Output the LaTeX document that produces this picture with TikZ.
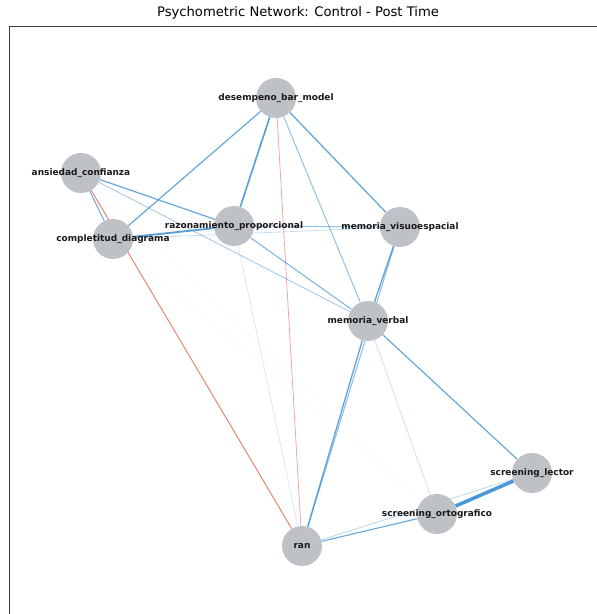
\documentclass[tikz,border=0pt]{standalone}
\usepackage{fontspec}
\setmainfont{DejaVu Sans}
\usetikzlibrary{backgrounds}
\definecolor{nodegray}{RGB}{190,194,199}
\definecolor{posblue}{RGB}{75,152,215}
\definecolor{negred}{RGB}{230,112,92}
\definecolor{framegray}{RGB}{60,60,60}
\begin{document}
\begin{tikzpicture}[x=1bp,y=-1bp,
  vnode/.style={circle,fill=nodegray,minimum size=40bp,inner sep=0pt},
  vlabel/.style={font=\bfseries\fontsize{9}{10}\selectfont,text=black!90,inner sep=0pt},
  pos/.style={draw=posblue,line width=#1},
  neg/.style={draw=negred,line width=#1},
  faint/.style={draw=posblue!40!gray,line width=0.6bp,draw opacity=0.06}
]
\useasboundingbox (0,0) rectangle (597,614);
\node[font=\fontsize{13.2}{15}\selectfont] (title) at (298,13) {Psychometric Network: Control - Post Time};
\draw[framegray,line width=0.8bp] (9,614) -- (9,26) -- (597,26);

% nodes
\node[vnode] (des) at (276,98) {};
\node[vnode] (ans) at (81,173) {};
\node[vnode] (com) at (113,239) {};
\node[vnode] (raz) at (234,226) {};
\node[vnode] (mvi) at (400,227) {};
\node[vnode] (mve) at (368,321) {};
\node[vnode] (lec) at (532,473) {};
\node[vnode] (ort) at (437,514) {};
\node[vnode] (ran) at (302,546) {};

% labels
\node[vlabel] (ldes) at (des) {desempeno\_bar\_model};
\node[vlabel] (lans) at (ans) {ansiedad\_confianza};
\node[vlabel] (lcom) at (com) {completitud\_diagrama};
\node[vlabel] (lraz) at (raz) {razonamiento\_proporcional};
\node[vlabel] (lmvi) at (mvi) {memoria\_visuoespacial};
\node[vlabel] (lmve) at (mve) {memoria\_verbal};
\node[vlabel] (llec) at (lec) {screening\_lector};
\node[vlabel] (lort) at (ort) {screening\_ortografico};
\node[vlabel] (lran) at (ran) {ran};

% edges
\begin{scope}[on background layer]
\draw[faint] (com) -- (ort);
\draw[faint] (ans) -- (ort);
\draw[pos=1.2bp,draw opacity=0.85] (des) -- (com);
\draw[pos=1.6bp,draw opacity=0.95] (des) -- (raz);
\draw[neg=0.8bp,draw opacity=0.6] (des) -- (ran);
\draw[pos=0.9bp,draw opacity=0.65] (des) -- (mve);
\draw[pos=1.3bp,draw opacity=0.85] (des) -- (mvi);
\draw[pos=1.0bp,draw opacity=0.85] (ans) -- (com);
\draw[neg=1.0bp,draw opacity=0.85] (ans) -- (ran);
\draw[pos=1.2bp,draw opacity=0.85] (ans) -- (raz);
\draw[pos=0.8bp,draw opacity=0.55] (ans) -- (mve);
\draw[pos=1.8bp,draw opacity=0.95] (com) -- (raz);
\draw[pos=0.7bp,draw opacity=0.35] (com) -- (mvi);
\draw[pos=1.0bp,draw opacity=0.6] (raz) -- (mvi);
\draw[pos=1.0bp,draw opacity=0.75] (raz) -- (mve);
\draw[pos=0.8bp,draw opacity=0.22] (raz) -- (ran);
\draw[pos=1.3bp,draw opacity=0.9] (mvi) -- (mve);
\draw[pos=1.0bp,draw opacity=0.65] (mvi) -- (ran);
\draw[pos=1.3bp,draw opacity=0.9] (mve) -- (ran);
\draw[pos=1.2bp,draw opacity=0.85] (mve) -- (lec);
\draw[pos=0.8bp,draw opacity=0.28] (mve) -- (ort);
\draw[pos=3.5bp] (lec) -- (ort);
\draw[pos=0.8bp,draw opacity=0.4] (lec) -- (ran);
\draw[pos=1.1bp,draw opacity=0.85] (ort) -- (ran);
\end{scope}
\end{tikzpicture}
\end{document}
